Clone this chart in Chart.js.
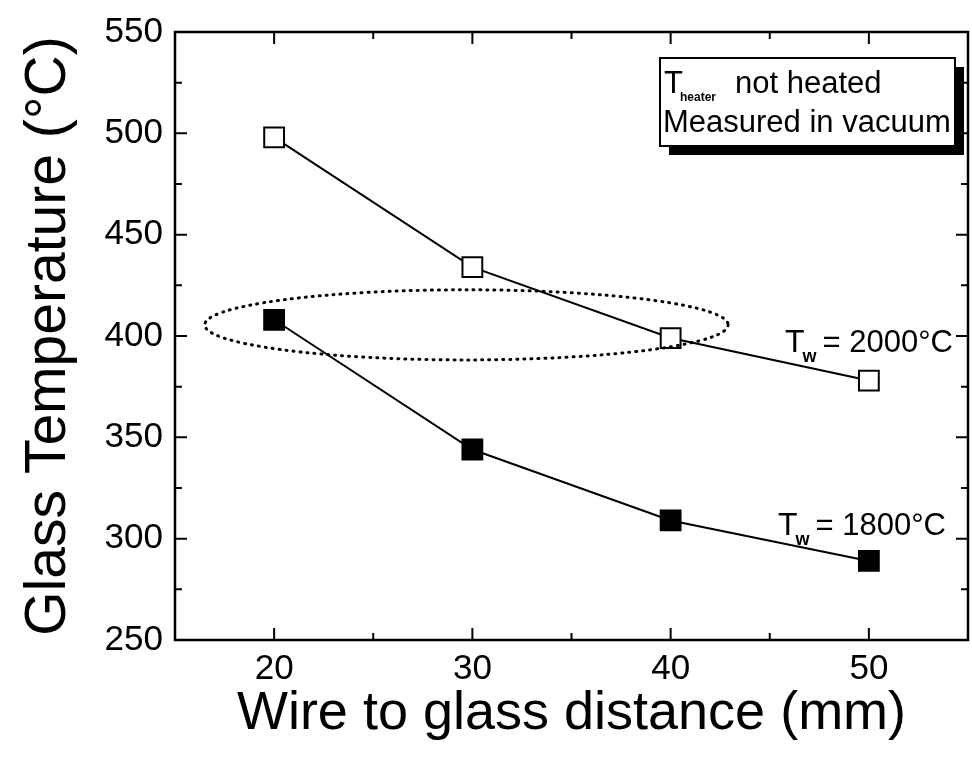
<!DOCTYPE html>
<html>
<head>
<meta charset="utf-8">
<script src="https://cdn.jsdelivr.net/npm/chart.js@4/dist/chart.umd.min.js"></script>
<style>
  html, body { margin: 0; padding: 0; background: #fff; }
  #wrap { width: 972px; height: 757px; }
</style>
</head>
<body>
<div id="wrap"><canvas id="chart" width="972" height="757"></canvas></div>
<script>
// distances (mm) and measured glass temperatures (°C)
const distances = [20, 30, 40, 50];
const temp2000 = [498, 434, 399, 378];
const temp1800 = [408, 344, 309, 289];
const xTicks = [20, 30, 40, 50];
const yTicks = [250, 300, 350, 400, 450, 500, 550];

const FONT = "'Liberation Sans', Arial, sans-serif";

// inward ticks on all four sides plus the frame
const frameTicks = {
	id: "frameTicks",
	afterDatasetsDraw(chart) {
		const { ctx, chartArea: a, scales: { x, y } } = chart;
		ctx.save();
		ctx.strokeStyle = "#000";
		ctx.lineWidth = 2.5;
		ctx.strokeRect(a.left, a.top, a.right - a.left, a.bottom - a.top);
		ctx.lineWidth = 2;
		ctx.beginPath();
		for (let v = 20; v <= 50; v += 5) {
			const px = x.getPixelForValue(v);
			const len = v % 10 === 0 ? 12 : 7;
			ctx.moveTo(px, a.bottom); ctx.lineTo(px, a.bottom - len);
			ctx.moveTo(px, a.top); ctx.lineTo(px, a.top + len);
		}
		for (let v = 275; v < 550; v += 25) {
			const py = y.getPixelForValue(v);
			const len = v % 50 === 0 ? 12 : 7;
			ctx.moveTo(a.left, py); ctx.lineTo(a.left + len, py);
			ctx.moveTo(a.right, py); ctx.lineTo(a.right - len, py);
		}
		ctx.stroke();
		ctx.restore();
	}
};

// dotted ellipse, text labels and the framed note
const notes = {
	id: "notes",
	afterDraw(chart) {
		const { ctx, scales: { x, y } } = chart;
		ctx.save();

		// ellipse round the ~400 °C points
		const cx = x.getPixelForValue(29.7), cy = y.getPixelForValue(405.5);
		const rx = x.getPixelForValue(29.7 + 13.2) - cx;
		const ry = cy - y.getPixelForValue(405.5 + 17.3);
		ctx.setLineDash([1, 6]);
		ctx.lineCap = "round";
		ctx.lineWidth = 3;
		ctx.beginPath();
		ctx.ellipse(cx, cy, rx, ry, 0, 0, Math.PI * 2);
		ctx.stroke();
		ctx.setLineDash([]);

		ctx.fillStyle = "#000";
		ctx.textBaseline = "alphabetic";
		const label = (tx, ty, main, sub, rest) => {
			ctx.font = "32px " + FONT;
			ctx.fillText(main, tx, ty);
			let w = ctx.measureText(main).width;
			ctx.font = "bold 18px " + FONT;
			ctx.fillText(sub, tx + w - 2, ty + 10);
			w += ctx.measureText(sub).width + 4;
			ctx.font = "31px " + FONT;
			ctx.fillText(rest, tx + w, ty);
		};
		label(785, 352, "T", "w", "= 2000°C");
		label(778, 535, "T", "w", "= 1800°C");

		// note box with drop shadow
		ctx.fillRect(669, 67, 295, 88);
		ctx.fillStyle = "#fff";
		ctx.fillRect(660, 58, 295, 88);
		ctx.lineWidth = 2;
		ctx.strokeRect(660, 58, 295, 88);
		ctx.fillStyle = "#000";
		ctx.font = "31px " + FONT;
		ctx.fillText("T", 664, 93);
		ctx.font = "bold 12px " + FONT;
		ctx.fillText("heater", 680, 101);
		ctx.font = "31px " + FONT;
		ctx.fillText("not heated", 735, 93);
		ctx.fillText("Measured in vacuum", 663, 132);
		ctx.restore();
	}
};

new Chart(document.getElementById("chart"), {
	type: "line",
	data: {
		datasets: [
			{
				label: "Tw = 2000°C",
				data: distances.map((d, i) => ({ x: d, y: temp2000[i] })),
				borderColor: "#000",
				borderWidth: 2,
				pointStyle: "rect",
				pointRadius: 14,
				pointBorderWidth: 2,
				pointBackgroundColor: "#fff",
				pointBorderColor: "#000"
			},
			{
				label: "Tw = 1800°C",
				data: distances.map((d, i) => ({ x: d, y: temp1800[i] })),
				borderColor: "#000",
				borderWidth: 2,
				pointStyle: "rect",
				pointRadius: 14,
				pointBorderWidth: 2,
				pointBackgroundColor: "#000",
				pointBorderColor: "#000"
			}
		]
	},
	options: {
		responsive: false,
		animation: false,
		layout: { autoPadding: false, padding: { left: 0, top: 32, right: 4, bottom: 0 } },
		plugins: { legend: { display: false }, tooltip: { enabled: false } },
		scales: {
			x: {
				type: "linear",
				min: 15,
				max: 55,
				afterBuildTicks: (s) => { s.ticks = xTicks.map((v) => ({ value: v })); },
				afterFit: (s) => { s.height = 117; s.paddingLeft = 0; s.paddingRight = 0; },
				grid: { display: false },
				border: { display: false },
				ticks: { color: "#000", font: { family: FONT, size: 35 }, padding: 0 },
				title: {
					display: true,
					text: "Wire to glass distance (mm)",
					color: "#000",
					font: { family: FONT, size: 54 },
					padding: { top: 0, bottom: 10 }
				}
			},
			y: {
				type: "linear",
				min: 250,
				max: 550,
				afterBuildTicks: (s) => { s.ticks = yTicks.map((v) => ({ value: v })); },
				afterFit: (s) => { s.width = 175; s.paddingTop = 0; s.paddingBottom = 0; },
				grid: { display: false },
				border: { display: false },
				ticks: { color: "#000", font: { family: FONT, size: 35 }, padding: 4 },
				title: {
					display: true,
					text: "Glass Temperature (°C)",
					color: "#000",
					font: { family: FONT, size: 57 },
					padding: { top: 15, bottom: 0 }
				}
			}
		}
	},
	plugins: [frameTicks, notes]
});
</script>
</body>
</html>
